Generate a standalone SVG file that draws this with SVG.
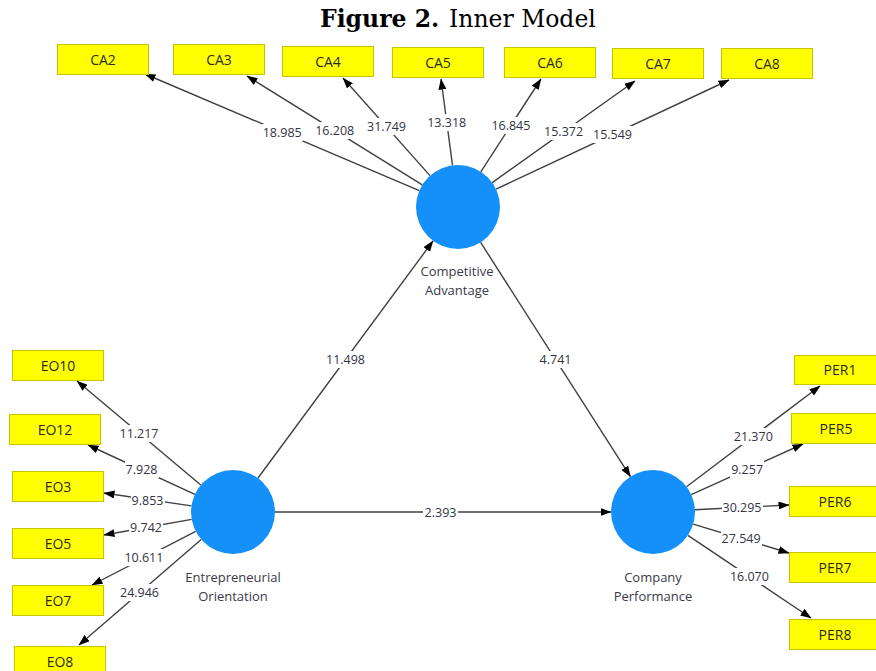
<svg xmlns="http://www.w3.org/2000/svg" width="876" height="671" viewBox="0 0 876 671">
<defs>
<marker id="arr" viewBox="0 0 11 8" refX="10.5" refY="4" markerWidth="11" markerHeight="8" markerUnits="userSpaceOnUse" orient="auto">
<path d="M0,0 L11,4 L0,8 z" fill="#000"/>
</marker>
</defs>
<style>
.title{font-family:"DejaVu Serif",serif;font-size:23.5px;fill:#000}
.box rect{fill:#ffff00;stroke:#c4c400;stroke-width:1}
.box text{font-family:"Open Sans",sans-serif;font-size:14px;fill:#2a2a2a;text-anchor:middle}
.lv circle{fill:#1590f8}
.lv text{font-family:"Open Sans",sans-serif;font-size:13px;fill:#3a3a4a;text-anchor:middle}
.conn line{stroke:#404040;stroke-width:1.4;marker-end:url(#arr)}
.lbl rect{fill:#fff}
.lbl text{font-family:"Open Sans",sans-serif;font-size:12.5px;fill:#333344;text-anchor:middle}
</style>
<rect width="876" height="671" fill="#fff"/>
<text class="title" y="27"><tspan x="320" font-weight="bold">Figure 2.</tspan><tspan x="449">Inner Model</tspan></text>

<g id="connectors" class="conn">
<line x1="419.3" y1="190.6" x2="145" y2="74"/>
<line x1="422.3" y1="184.8" x2="247" y2="76"/>
<line x1="430.0" y1="175.6" x2="343" y2="78"/>
<line x1="452.5" y1="165.4" x2="441" y2="79"/>
<line x1="480.8" y1="171.8" x2="541" y2="79"/>
<line x1="492.2" y1="182.6" x2="635" y2="81"/>
<line x1="496.0" y1="189.2" x2="729" y2="80"/>
<line x1="200.8" y1="485.0" x2="77" y2="381"/>
<line x1="194.9" y1="494.4" x2="88" y2="445"/>
<line x1="191.5" y1="505.9" x2="104" y2="493"/>
<line x1="191.6" y1="519.4" x2="104" y2="535"/>
<line x1="195.7" y1="531.3" x2="92" y2="585"/>
<line x1="201.2" y1="539.5" x2="79" y2="645"/>
<line x1="686.5" y1="486.7" x2="820" y2="386"/>
<line x1="691.2" y1="494.7" x2="803" y2="444"/>
<line x1="694.9" y1="509.8" x2="789" y2="505"/>
<line x1="693.2" y1="524.1" x2="789" y2="553"/>
<line x1="687.9" y1="535.4" x2="811" y2="618"/>
<line x1="258" y1="478" x2="433" y2="241"/>
<line x1="480.6" y1="242.4" x2="630.4" y2="476.6"/>
<line x1="275" y1="512" x2="611" y2="512"/>
</g>

<g id="labels" class="lbl">
<rect x="262" y="124" width="41" height="17"/><text x="282.2" y="136.8">18.985</text>
<rect x="314" y="122" width="41" height="17"/><text x="334.7" y="134.9">16.208</text>
<rect x="366" y="118" width="41" height="17"/><text x="386.5" y="131.3">31.749</text>
<rect x="426" y="114" width="41" height="17"/><text x="446.7" y="126.7">13.318</text>
<rect x="490" y="117" width="41" height="17"/><text x="510.9" y="129.9">16.845</text>
<rect x="543" y="123" width="41" height="17"/><text x="563.6" y="136.3">15.372</text>
<rect x="592" y="126" width="41" height="17"/><text x="612.5" y="139.1">15.549</text>
<rect x="119" y="425" width="40" height="17"/><text x="139" y="437.5">11.217</text>
<rect x="125" y="461" width="34" height="17"/><text x="141.5" y="474.2">7.928</text>
<rect x="131" y="492" width="34" height="17"/><text x="147.5" y="505">9.853</text>
<rect x="129" y="519" width="34" height="17"/><text x="146" y="531.7">9.742</text>
<rect x="124" y="549" width="40" height="17"/><text x="143.9" y="562.2">10.611</text>
<rect x="119" y="584" width="41" height="17"/><text x="139.5" y="596.8">24.946</text>
<rect x="733" y="428" width="41" height="17"/><text x="753.3" y="440.9">21.370</text>
<rect x="730" y="461" width="34" height="17"/><text x="747.1" y="473.9">9.257</text>
<rect x="722" y="499" width="41" height="17"/><text x="742" y="511.9">30.295</text>
<rect x="721" y="530" width="41" height="17"/><text x="741.1" y="543.1">27.549</text>
<rect x="729" y="568" width="41" height="17"/><text x="749.4" y="581.2">16.070</text>
<rect x="325" y="351" width="41" height="17"/><text x="345.5" y="364">11.498</text>
<rect x="538" y="351" width="35" height="17"/><text x="555.5" y="364">4.741</text>
<rect x="423" y="503" width="35" height="17"/><text x="440.5" y="516.5">2.393</text>
</g>

<g id="CA" class="lv"><circle cx="458" cy="207" r="42"/><text x="457" y="276">Competitive</text><text x="457" y="294.5">Advantage</text></g>
<g id="EO" class="lv"><circle cx="233" cy="512" r="42"/><text x="233" y="582">Entrepreneurial</text><text x="233" y="600.5">Orientation</text></g>
<g id="CP" class="lv"><circle cx="653" cy="512" r="42"/><text x="653" y="582">Company</text><text x="653" y="600.5">Performance</text></g>

<g id="CA2" class="box"><rect x="57.5" y="44.5" width="91" height="30"/><text x="103" y="64.5">CA2</text></g>
<g id="CA3" class="box"><rect x="173.5" y="44.5" width="91" height="30"/><text x="219" y="64.5">CA3</text></g>
<g id="CA4" class="box"><rect x="282.5" y="46.5" width="91" height="30"/><text x="328" y="66.5">CA4</text></g>
<g id="CA5" class="box"><rect x="392.5" y="47.5" width="91" height="30"/><text x="438" y="67.5">CA5</text></g>
<g id="CA6" class="box"><rect x="504.5" y="47.5" width="91" height="30"/><text x="550" y="67.5">CA6</text></g>
<g id="CA7" class="box"><rect x="612.5" y="48.5" width="91" height="30"/><text x="658" y="68.5">CA7</text></g>
<g id="CA8" class="box"><rect x="721.5" y="48.5" width="91" height="30"/><text x="767" y="68.5">CA8</text></g>

<g id="EO10" class="box"><rect x="12.5" y="350.5" width="91" height="30"/><text x="58" y="370.5">EO10</text></g>
<g id="EO12" class="box"><rect x="9.5" y="414.5" width="91" height="30"/><text x="55" y="434.5">EO12</text></g>
<g id="EO3" class="box"><rect x="12.5" y="471.5" width="91" height="30"/><text x="58" y="491.5">EO3</text></g>
<g id="EO5" class="box"><rect x="12.5" y="528.5" width="91" height="30"/><text x="58" y="548.5">EO5</text></g>
<g id="EO7" class="box"><rect x="12.5" y="585.5" width="91" height="30"/><text x="58" y="605.5">EO7</text></g>
<g id="EO8" class="box"><rect x="14.5" y="646.5" width="91" height="30"/><text x="60" y="666.5">EO8</text></g>

<g id="PER1" class="box"><rect x="794.5" y="355.5" width="91" height="29"/><text x="840" y="375">PER1</text></g>
<g id="PER5" class="box"><rect x="791.5" y="413.5" width="91" height="30"/><text x="836" y="433.5">PER5</text></g>
<g id="PER6" class="box"><rect x="789.5" y="486.5" width="91" height="30"/><text x="835" y="506.5">PER6</text></g>
<g id="PER7" class="box"><rect x="789.5" y="552.5" width="91" height="30"/><text x="835" y="572.5">PER7</text></g>
<g id="PER8" class="box"><rect x="789.5" y="619.5" width="91" height="30"/><text x="835" y="639.5">PER8</text></g>
</svg>
